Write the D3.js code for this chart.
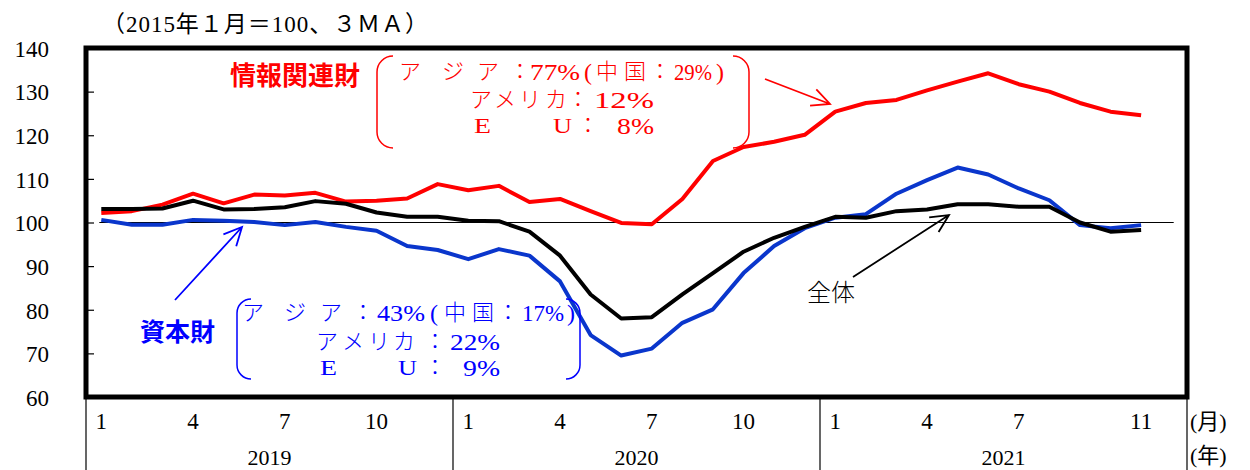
<!DOCTYPE html>
<html>
<head>
<meta charset="utf-8">
<script src="https://cdn.jsdelivr.net/npm/d3@7"></script>
<style>
  html, body { margin: 0; padding: 0; background: #fff; }
  svg { display: block; }
  .serif { font-family: "Liberation Serif", "Noto Sans CJK JP", serif; }
  .goth { font-family: "Noto Sans CJK JP", sans-serif; }
</style>
</head>
<body>
<svg id="chart" width="1250" height="470"></svg>
<script>
// Month sequence: Jan 2019 .. Nov 2021 (35 points), axis spans 3 full years
const years = [2019, 2020, 2021];
const monthsPerYear = 12;
const monthLabels = [
  { idx: 0, label: "1" }, { idx: 3, label: "4" }, { idx: 6, label: "7" }, { idx: 9, label: "10" },
  { idx: 12, label: "1" }, { idx: 15, label: "4" }, { idx: 18, label: "7" }, { idx: 21, label: "10" },
  { idx: 24, label: "1" }, { idx: 27, label: "4" }, { idx: 30, label: "7" }, { idx: 34, label: "11" }
];
const yTicks = [60, 70, 80, 90, 100, 110, 120, 130, 140];

// 情報関連財
const infoGoods = [102.2, 102.6, 104.1, 106.6, 104.4, 106.4, 106.2, 106.8, 104.8, 105.0, 105.5, 108.8,
                   107.4, 108.4, 104.7, 105.4, 102.6, 99.9, 99.6, 105.4, 114.1, 117.3, 118.5, 120.1,
                   125.4, 127.4, 128.1, 130.3, 132.3, 134.2, 131.7, 130.0, 127.4, 125.4, 124.6];
// 資本財
const capitalGoods = [100.6, 99.5, 99.5, 100.6, 100.4, 100.1, 99.4, 100.1, 99.0, 98.1, 94.6, 93.7,
                      91.6, 93.9, 92.4, 86.5, 74.2, 69.5, 71.1, 77.0, 80.1, 88.4, 94.6, 98.7,
                      101.1, 101.9, 106.6, 109.7, 112.6, 111.0, 107.8, 105.1, 99.4, 98.7, 99.4];
// 全体
const total = [103.1, 103.1, 103.2, 105.0, 103.0, 103.1, 103.5, 104.9, 104.3, 102.3, 101.3, 101.3,
               100.4, 100.3, 97.9, 92.4, 83.5, 78.0, 78.3, 83.5, 88.4, 93.3, 96.5, 99.0,
               101.3, 101.1, 102.6, 103.0, 104.2, 104.2, 103.6, 103.6, 100.0, 97.9, 98.3];

// regional export shares shown in the callouts
const infoShares = { asia: "77%", china: "29%", america: "12%", eu: "8%" };
const capitalShares = { asia: "43%", china: "17%", america: "22%", eu: "9%" };

const svg = d3.select("#chart");
const frame = { left: 86, right: 1187, top: 48, bottom: 397 };

const x = d3.scaleBand()
  .domain(d3.range(years.length * monthsPerYear))
  .range([frame.left, frame.right])
  .paddingInner(0).paddingOuter(0);
const xc = i => x(i) + x.bandwidth() / 2;

const y = d3.scaleLinear().domain([60, 140]).range([frame.bottom, frame.top]);

// y-axis labels
const yAxis = d3.axisLeft(y).tickValues(yTicks).tickSize(0).tickPadding(37).tickFormat(d3.format("d"));
const gy = svg.append("g").attr("transform", `translate(${frame.left},0)`).call(yAxis);
gy.select(".domain").remove();
gy.attr("font-family", null);
gy.selectAll("text").attr("class", "serif").style("font-size", "23px").attr("fill", "#000")
  .attr("dy", "0.36em");

// inner tick marks
const yInner = d3.axisRight(y).tickValues(yTicks.slice(1, -1)).tickSize(8).tickFormat("");
const gyi = svg.append("g").attr("transform", `translate(${frame.left},0)`).call(yInner);
gyi.select(".domain").remove();
gyi.selectAll("line").attr("stroke", "#000").attr("stroke-width", 1.2);

// reference line at 100
svg.append("line")
  .attr("x1", xc(0) - 2).attr("x2", xc(35) + 2)
  .attr("y1", y(100)).attr("y2", y(100))
  .attr("stroke", "#000").attr("stroke-width", 1.2);

// series
const line = d3.line().x((d, i) => xc(i)).y(d => y(d));
const series = [
  { data: infoGoods, color: "#ff0000" },
  { data: capitalGoods, color: "#0a36cc" },
  { data: total, color: "#000000" }
];
series.forEach(s => {
  svg.append("path").datum(s.data)
    .attr("d", line).attr("fill", "none")
    .attr("stroke", s.color).attr("stroke-width", 4)
    .attr("stroke-linejoin", "round");
});

// frame
svg.append("rect")
  .attr("x", frame.left).attr("y", frame.top)
  .attr("width", frame.right - frame.left).attr("height", frame.bottom - frame.top)
  .attr("fill", "none").attr("stroke", "#000").attr("stroke-width", 5);

// x axis (months)
const xAxis = d3.axisBottom(x).tickValues(monthLabels.map(d => d.idx)).tickSize(0)
  .tickFormat(i => monthLabels.find(d => d.idx === i).label);
const gx = svg.append("g").attr("transform", `translate(0,${frame.bottom})`).call(xAxis);
gx.select(".domain").remove();
gx.attr("font-family", null);
gx.selectAll("text").attr("class", "serif").style("font-size", "23px").attr("fill", "#000")
  .attr("y", 24).attr("dy", "0.36em");

// year dividers and year labels
const dividers = d3.range(years.length + 1).map(k => k * monthsPerYear);
svg.selectAll("line.div").data(dividers).enter().append("line")
  .attr("x1", k => k < 36 ? x(k) : frame.right).attr("x2", k => k < 36 ? x(k) : frame.right)
  .attr("y1", frame.bottom).attr("y2", 470)
  .attr("stroke", "#000").attr("stroke-width", 1.2);
svg.selectAll("text.year").data(years).enter().append("text")
  .attr("class", "serif")
  .attr("x", (d, k) => frame.left + (k + 0.5) * 12 * x.bandwidth())
  .attr("y", 465).attr("text-anchor", "middle")
  .style("font-size", "22px").text(d => d);

svg.append("text").attr("class", "serif").attr("x", 1190).attr("y", 421).attr("dy", "0.36em")
  .style("font-size", "22px").text("(月)");
svg.append("text").attr("class", "serif").attr("x", 1190).attr("y", 455).attr("dy", "0.36em")
  .style("font-size", "22px").text("(年)");

// unit note
svg.append("text").attr("class", "serif").attr("x", 102).attr("y", 24).attr("dy", "0.36em")
  .attr("textLength", 326).attr("lengthAdjust", "spacing")
  .style("font-size", "23px").text("（2015年１月＝100、３ＭＡ）");

// bracket helper: open rounded box (left & right halves)
function bracket(x0, x1, y0, y1, r, color) {
  const p = d3.path();
  p.moveTo(x0 + r, y0); p.arcTo(x0, y0, x0, y0 + r, r); p.lineTo(x0, y1 - r); p.arcTo(x0, y1, x0 + r, y1, r);
  p.moveTo(x1 - r, y0); p.arcTo(x1, y0, x1, y0 + r, r); p.lineTo(x1, y1 - r); p.arcTo(x1, y1, x1 - r, y1, r);
  svg.append("path").attr("d", p.toString()).attr("fill", "none").attr("stroke", color).attr("stroke-width", 1.5);
}
function arrow(x0, y0, x1, y1, color, head) {
  const a = Math.atan2(y1 - y0, x1 - x0);
  const h = head || 20, s = 0.45;
  const p = d3.path();
  p.moveTo(x0, y0); p.lineTo(x1, y1);
  p.moveTo(x1 - h * Math.cos(a - s), y1 - h * Math.sin(a - s)); p.lineTo(x1, y1);
  p.lineTo(x1 - h * Math.cos(a + s), y1 - h * Math.sin(a + s));
  svg.append("path").attr("d", p.toString()).attr("fill", "none").attr("stroke", color).attr("stroke-width", 1.8);
}
// text pieces: [text, x, anchor, width(optional, for number runs)]
function pieces(list, yy, color) {
  list.forEach(([t, px, anchor, w]) => {
    const isNum = /[0-9%()]/.test(t);
    const el = svg.append("text").attr("class", "serif")
      .attr("x", px).attr("y", yy).attr("dy", "0.36em")
      .attr("text-anchor", anchor || "start").attr("fill", color)
      .style("font-size", isNum ? "24px" : "22px")
      .style("font-weight", "300").text(t);
    if (w) el.attr("textLength", w).attr("lengthAdjust", "spacingAndGlyphs");
  });
}

// 情報関連財 annotation
svg.append("text").attr("class", "goth").attr("x", 230).attr("y", 76).attr("dy", "0.36em")
  .attr("fill", "#ff0000").style("font-size", "26px").style("font-weight", "700").text("情報関連財");
bracket(377, 749, 56, 148, 16, "#ff0000");
pieces([
  ["ア", 399], ["ジ", 442], ["ア", 477], ["：", 520, "middle"],
  [infoShares.asia, 530, "start", 50], ["(", 584], ["中", 596], ["国", 624], ["：", 660, "middle"],
  [infoShares.china, 674, "start", 38], [")", 716]
], 71, "#ff0000");
pieces([
  ["ア", 470], ["メ", 494], ["リ", 519], ["カ", 545], ["：", 578, "middle"],
  [infoShares.america, 594, "start", 60]
], 99, "#ff0000");
pieces([
  ["E", 474, "start", 17], ["U", 553, "start", 19], ["：", 588, "middle"],
  [infoShares.eu, 617, "start", 37]
], 125, "#ff0000");
arrow(765, 79, 830, 104, "#ff0000", 20);

// 資本財 annotation
svg.append("text").attr("class", "goth").attr("x", 140).attr("y", 332).attr("dy", "0.36em")
  .attr("fill", "#0000ff").style("font-size", "25px").style("font-weight", "700").text("資本財");
bracket(237, 580, 299, 379, 14, "#0000ff");
pieces([
  ["ア", 242], ["ジ", 284], ["ア", 320], ["：", 363, "middle"],
  [capitalShares.asia, 377, "start", 48], ["(", 430], ["中", 444], ["国", 472], ["：", 508, "middle"],
  [capitalShares.china, 522, "start", 42], [")", 567]
], 312, "#0000ff");
pieces([
  ["ア", 316], ["メ", 342], ["リ", 368], ["カ", 393], ["：", 435, "middle"],
  [capitalShares.america, 450, "start", 50]
], 341, "#0000ff");
pieces([
  ["E", 320, "start", 17], ["U", 398, "start", 19], ["：", 435, "middle"],
  [capitalShares.eu, 463, "start", 37]
], 367, "#0000ff");
arrow(175, 300, 242, 227, "#0000ff", 20);

// 全体 annotation
svg.append("text").attr("class", "goth").attr("x", 807).attr("y", 292).attr("dy", "0.36em")
  .attr("fill", "#000").style("font-size", "24px").style("font-weight", "300").text("全体");
arrow(853, 277, 949, 215, "#000", 20);
</script>
</body>
</html>
